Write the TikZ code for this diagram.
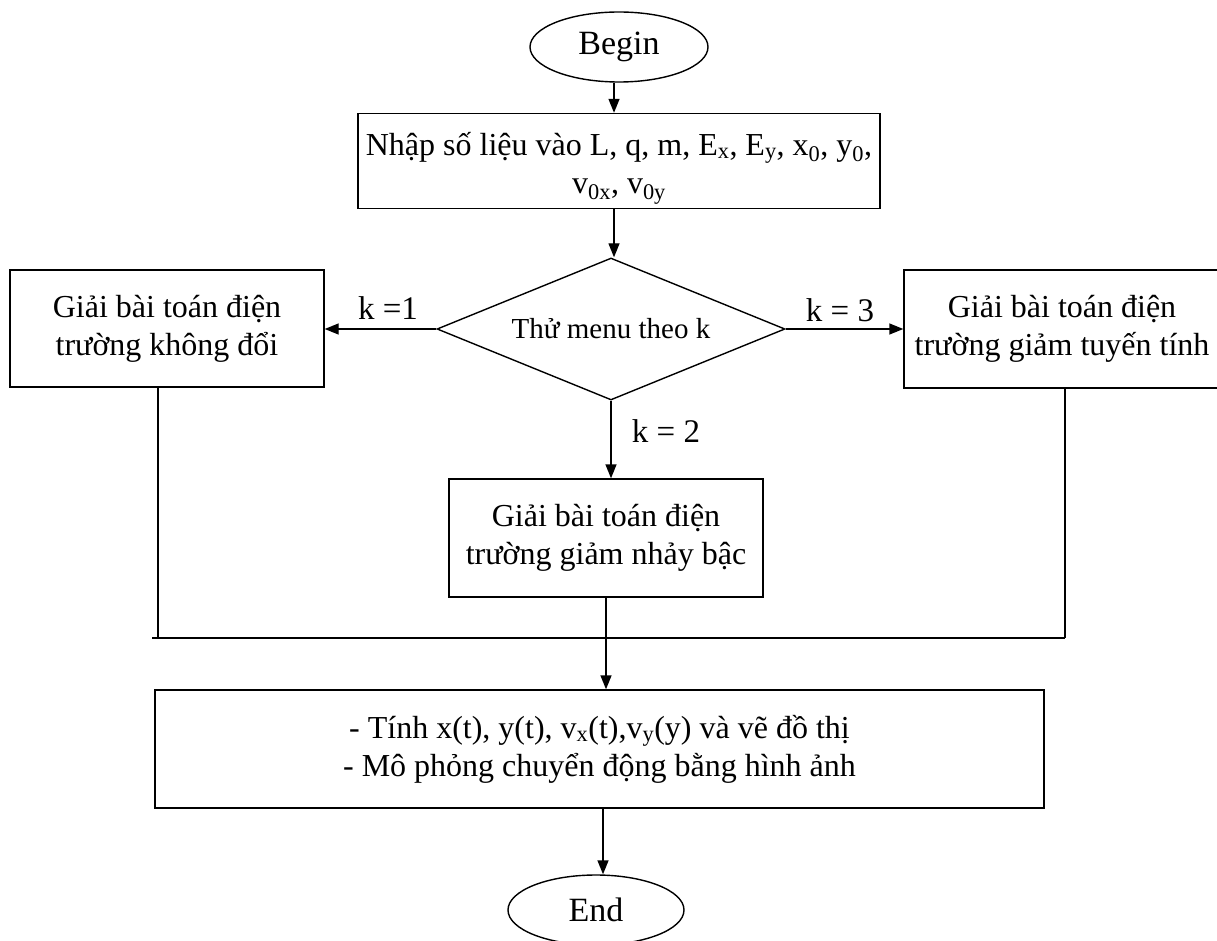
\documentclass[tikz,border=0pt]{standalone}
\usepackage{fontspec}
\setmainfont{Liberation Serif}
\usetikzlibrary{shapes.geometric,arrows.meta}

\begin{document}
\begin{tikzpicture}[x=1pt,y=-1pt,
  every node/.style={font=\fontsize{32}{38}\selectfont, align=center, inner sep=0pt},
  term/.style={draw, ellipse, line width=1.4pt},
  procbox/.style={draw, rectangle, line width=1.4pt},
  decide/.style={draw, diamond, line width=1.4pt, font=\fontsize{29}{34}\selectfont},
  conn/.style={line width=1.4pt},
  arr/.style={conn, -{Triangle[length=14pt,width=11pt]}},
  lbl/.style={font=\fontsize{33}{38}\selectfont}]
\clip (0,0) rectangle (1217,941);

% terminals
\node[term, minimum width=178pt, minimum height=70pt, font=\fontsize{34}{38}\selectfont] (begin) at (619,47) {Begin};
\node[term, minimum width=176pt, minimum height=70pt, font=\fontsize{34}{38}\selectfont] (end) at (596,910) {End};

% input block
\node[procbox, minimum width=522pt, minimum height=95pt] (input) at (619,161) {};
\node (inputtext) at (619,168) {Nhập số liệu vào L, q, m, E\textsubscript{x}, E\textsubscript{y}, x\textsubscript{0}, y\textsubscript{0},\\ v\textsubscript{0x}, v\textsubscript{0y}};

% menu choice
\node[decide, minimum width=348pt, minimum height=142pt, aspect=2.45] (menu) at (611,329) {Thử menu theo k};

% three solvers
\node[procbox, minimum width=314pt, minimum height=117pt] (const) at (167,328.5) {Giải bài toán điện\\ trường không đổi};
\node[procbox, minimum width=316pt, minimum height=118pt] (linear) at (1062,329) {Giải bài toán điện\\ trường giảm tuyến tính};
\node[procbox, minimum width=314pt, minimum height=118pt] (step) at (606,538) {Giải bài toán điện\\ trường giảm nhảy bậc};

% output block
\node[procbox, minimum width=889pt, minimum height=118pt] (output) at (599.5,749) {- Tính x(t), y(t), v\textsubscript{x}(t),v\textsubscript{y}(y) và vẽ đồ thị\\ - Mô phỏng chuyển động bằng hình ảnh};

% branch labels
\node[lbl] (k1) at (388,308) {k =1};
\node[lbl] (k3) at (840,310) {k = 3};
\node[lbl] (k2) at (666,431) {k = 2};

% junction points and vertical guides
\coordinate (jl) at (158,638);
\coordinate (jr) at (1065,638);
\coordinate (je) at (152,638);
\coordinate (ax) at (614,0);
\coordinate (ea) at (603,0);

% connectors
\draw[arr] (begin.south -| ax) -- (input.north -| ax);
\draw[arr] (input.south -| ax) -- (menu.north -| ax);
\draw[arr] (menu.west) -- (menu.west -| const.east);
\draw[arr] (menu.east) -- (menu.east -| linear.west);
\draw[arr] (menu.south) -- (menu.south |- step.north);
\draw[conn] (const.south -| jl) -- (jl);
\draw[conn] (linear.south -| jr) -- (jr);
\draw[conn] (je) -- (jr);
\draw[arr] (step.south) -- (step.south |- output.north);
\draw[arr] (output.south -| ea) -- (end.north -| ea);
\end{tikzpicture}
\end{document}
